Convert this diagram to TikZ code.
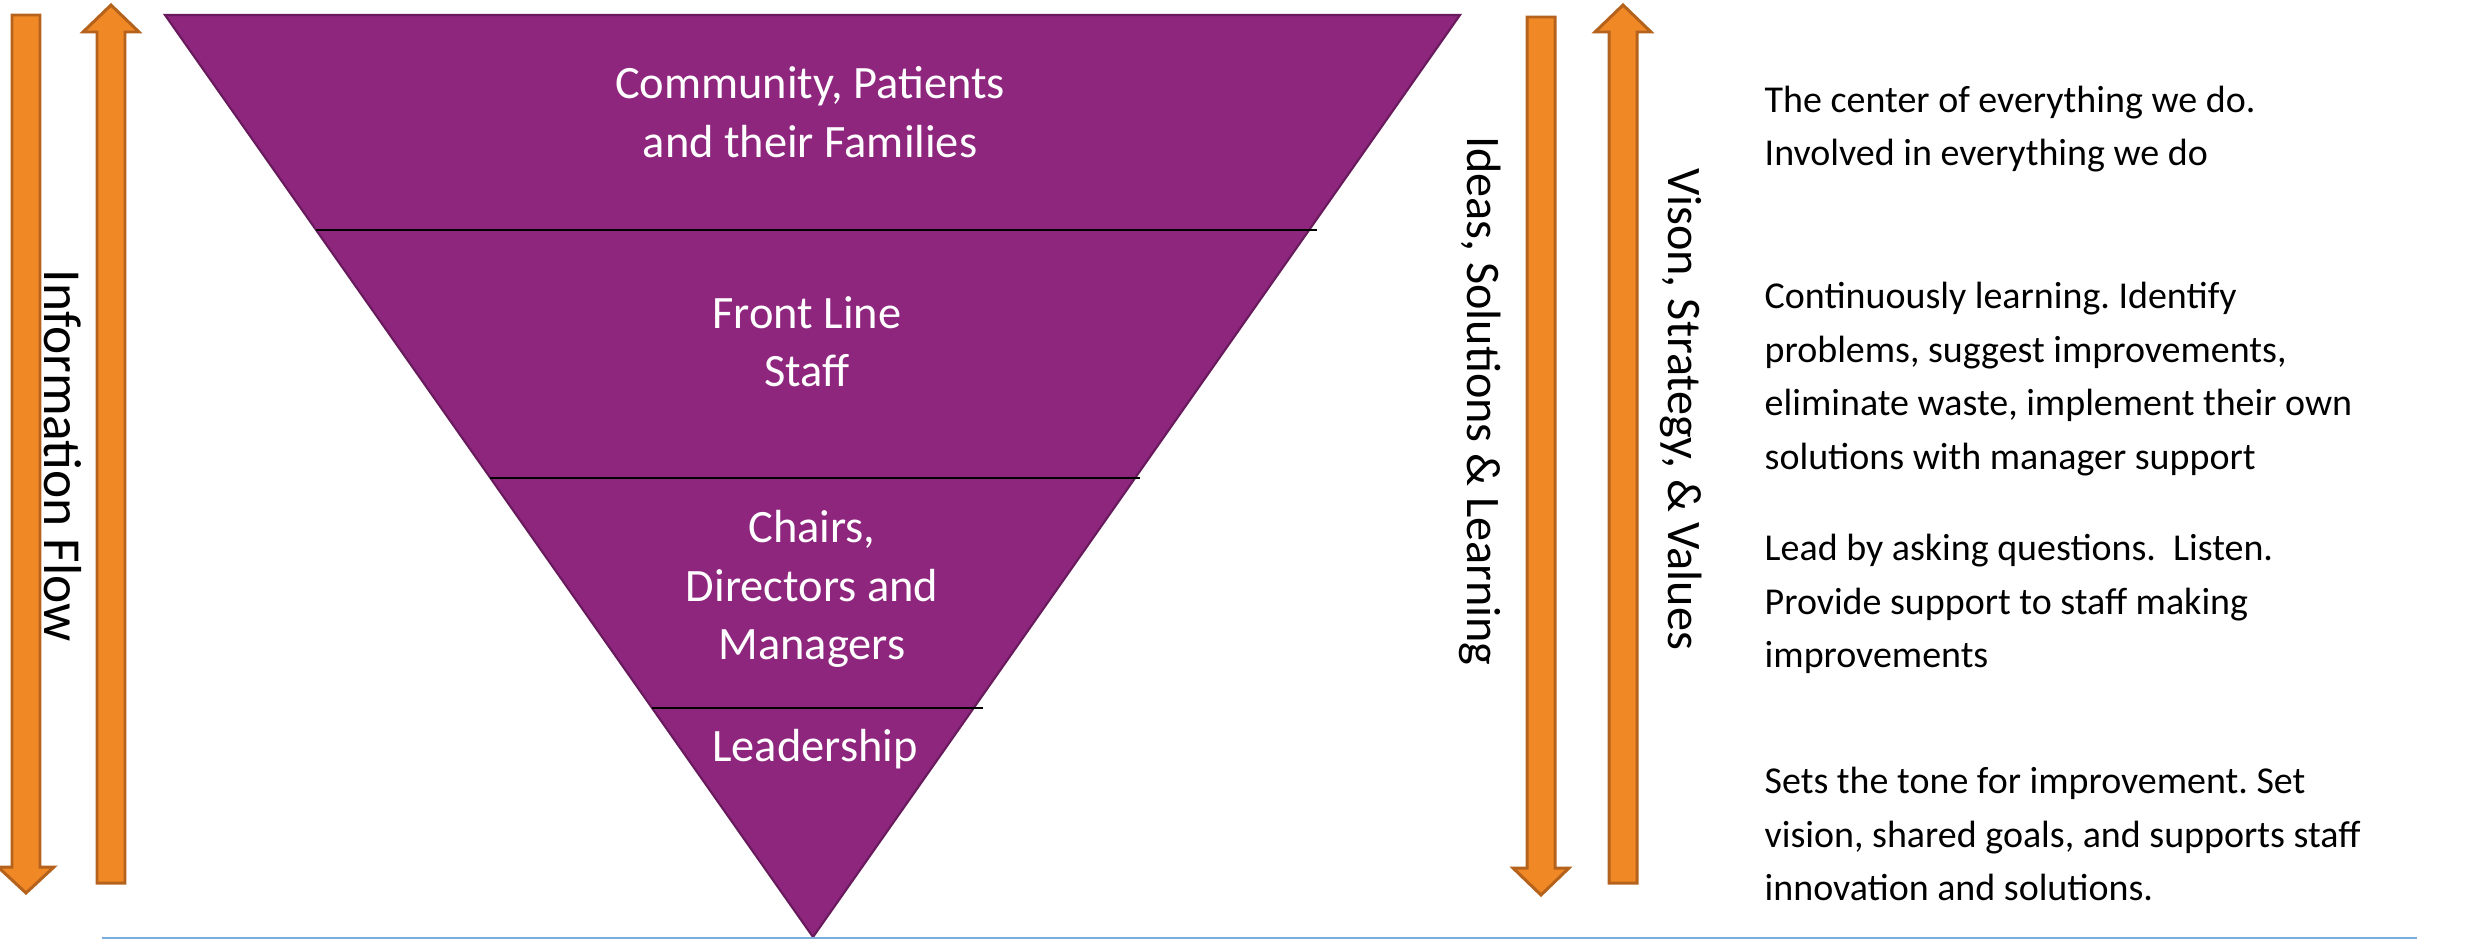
\documentclass[tikz,border=0pt]{standalone}
\usepackage{fontspec}
\setmainfont{Carlito}
\usepackage{tikz}
\usetikzlibrary{calc,positioning}
\usepackage{xcolor}
\definecolor{tripurple}{RGB}{142,38,126}
\definecolor{triedge}{RGB}{104,26,92}
\definecolor{flowfill}{RGB}{240,136,38}
\definecolor{flowedge}{RGB}{180,98,28}
\definecolor{baseblue}{RGB}{122,172,220}
\frenchspacing

\begin{document}
\begin{tikzpicture}[x=0.01cm,y=-0.01cm,
    level/.style={font=\fontsize{13.2}{16.6}\selectfont, text=white, align=center, inner sep=0},
    note/.style={font=\fontsize{10.8}{15.2}\selectfont, align=left, anchor=west, inner sep=0},
    side/.style={font=\fontsize{13.7}{16}\selectfont, rotate=-90, inner sep=0},
    flow/.style={fill=flowfill, draw=flowedge, line width=0.85pt, line join=miter}]
  \useasboundingbox (0,0) rectangle (2466,939);

  % block arrows: centre x / tail y / head base y / tip y
  \foreach \cx/\ya/\yh/\yb in {26/15/867/893, 111/883/32/5, 1541/17/868/895, 1623/883/32/5} {
    \draw[flow] ({\cx-14},\ya) -- ({\cx-14},\yh) -- ({\cx-28},\yh) -- (\cx,\yb)
      -- ({\cx+28},\yh) -- ({\cx+14},\yh) -- ({\cx+14},\ya) -- cycle;
  }

  % inverted pyramid
  \draw[fill=tripurple, draw=triedge, line width=0.6pt] (165,15) -- (1460,15) -- (813,937) -- cycle;
  \draw[line width=0.6pt] (316,230) -- (1317,230);
  \draw[line width=0.6pt] (490,478) -- (1140,478);
  \draw[line width=0.6pt] (652,708) -- (983,708);

  \node[level] (tComm)  at (810,112) {Community, Patients\\and their Families};
  \node[level] (tStaff) at (807,342) {Front Line\\Staff};
  \node[level] (tMgr)   at (812,589) {Chairs,\\Directors and\\Managers};
  \node[level] (tLead)  at (815,749) {Leadership};

  \node[side, font=\fontsize{15.2}{18}\selectfont] (lInfo) at (63,456) {Information Flow};
  \node[side] (lIdeas)  at (1480,401) {Ideas, Solutions \& Learning};
  \node[side] (lVision) at (1681,409) {Vison, Strategy, \& Values};

  \node[note] (dComm)  at (1764,129) {The center of everything we do.\\Involved in everything we do};
  \node[note] (dStaff) at (1764,379) {Continuously learning. Identify\\problems, suggest improvements,\\eliminate waste, implement their own\\solutions with manager support};
  \node[note] (dMgr)   at (1764,604) {Lead by asking questions.\ \ Listen.\\Provide support to staff making\\improvements};
  \node[note] (dLead)  at (1764,834) {Sets the tone for improvement. Set\\vision, shared goals, and supports staff\\innovation and solutions.};

  \draw[baseblue, line width=0.6pt] (102,938) -- (2417,938);
\end{tikzpicture}
\end{document}
